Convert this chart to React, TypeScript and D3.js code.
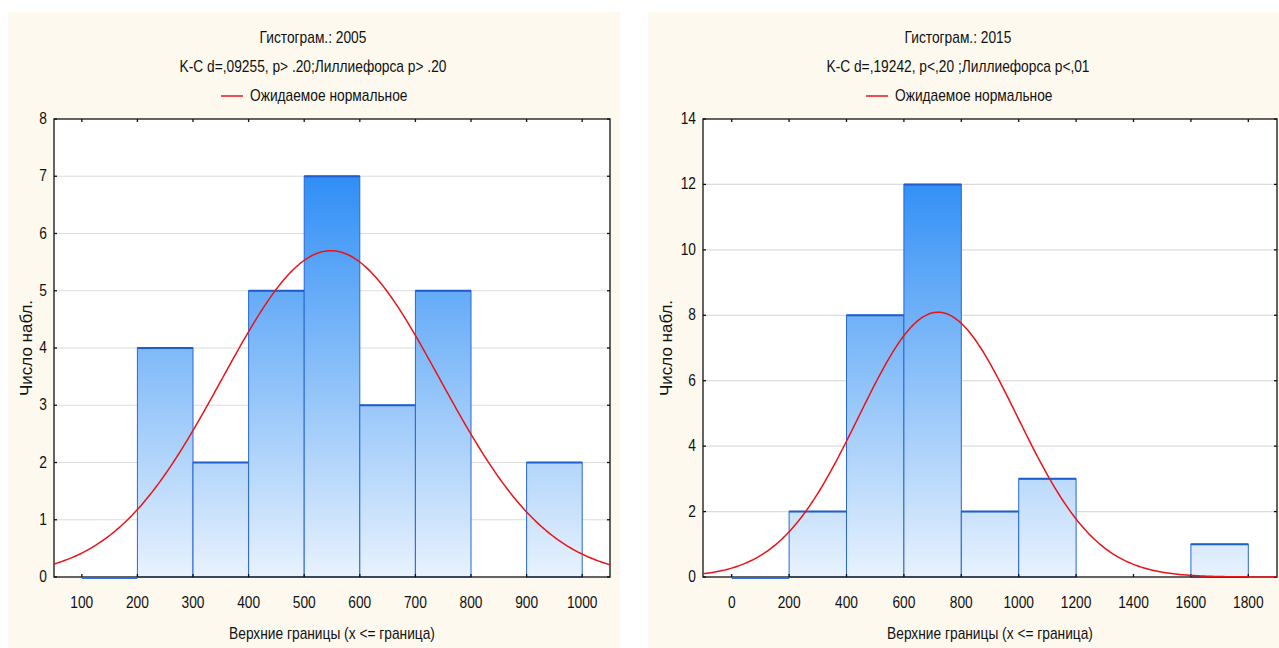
import React, { useRef, useEffect } from 'react';
import * as d3 from 'd3';

// Histogram 2005: upper bin bounds and counts
const upper2005 = [100, 200, 300, 400, 500, 600, 700, 800, 900, 1000];
const counts2005 = [0, 0, 4, 2, 5, 7, 3, 5, 0, 2];
const xTicks2005 = [100, 200, 300, 400, 500, 600, 700, 800, 900, 1000];
const yTicks2005 = [0, 1, 2, 3, 4, 5, 6, 7, 8];

// Histogram 2015
const upper2015 = [0, 200, 400, 600, 800, 1000, 1200, 1400, 1600, 1800];
const counts2015 = [0, 0, 2, 8, 12, 2, 3, 0, 0, 1];
const xTicks2015 = [0, 200, 400, 600, 800, 1000, 1200, 1400, 1600, 1800];
const yTicks2015 = [0, 2, 4, 6, 8, 10, 12, 14];

// Fitted normal parameters (expected normal)
const normal2005 = { n: 28, mean: 548, sd: 196 };
const normal2015 = { n: 28, mean: 719, sd: 276 };

const FONT = '"Liberation Sans", Arial, sans-serif';
const FS = 16;
const SX = 0.86; // horizontal squeeze to imitate a narrow face

interface PanelCfg {
  id: string;
  panel: [number, number];
  plot: { left: number; right: number; top: number; bottom: number };
  xDomain: [number, number];
  yMax: number;
  binWidth: number;
  upper: number[];
  counts: number[];
  xTicks: number[];
  yTicks: number[];
  normal: { n: number; mean: number; sd: number };
  title: string;
  subtitle: string;
  titleX: number;
  yLabelX: number;
}

const panels: PanelCfg[] = [
  {
    id: 'a',
    panel: [8, 620],
    plot: { left: 54, right: 610, top: 119, bottom: 577 },
    xDomain: [50, 1050],
    yMax: 8,
    binWidth: 100,
    upper: upper2005,
    counts: counts2005,
    xTicks: xTicks2005,
    yTicks: yTicks2005,
    normal: normal2005,
    title: 'Гистограм.: 2005',
    subtitle: 'K-C d=,09255, p> .20;Лиллиефорса p> .20',
    titleX: 313,
    yLabelX: 26,
  },
  {
    id: 'b',
    panel: [648, 1279],
    plot: { left: 703, right: 1277, top: 119, bottom: 577 },
    xDomain: [-100, 1900],
    yMax: 14,
    binWidth: 200,
    upper: upper2015,
    counts: counts2015,
    xTicks: xTicks2015,
    yTicks: yTicks2015,
    normal: normal2015,
    title: 'Гистограм.: 2015',
    subtitle: 'K-C d=,19242, p<,20 ;Лиллиефорса p<,01',
    titleX: 958,
    yLabelX: 666,
  },
];

type G = d3.Selection<SVGGElement, unknown, null, undefined>;

function addText(parent: G, x: number, y: number, str: string, anchor = 'middle') {
  return parent.append('text')
    .attr('transform', `translate(${x},${y}) scale(${SX},1)`)
    .attr('text-anchor', anchor)
    .text(str);
}

function drawPanel(svg: d3.Selection<SVGSVGElement, unknown, null, undefined>, cfg: PanelCfg) {
  const { plot } = cfg;
  const g = svg.append('g');

  // cream background
  g.append('rect')
    .attr('x', cfg.panel[0])
    .attr('y', 12)
    .attr('width', cfg.panel[1] - cfg.panel[0])
    .attr('height', 640)
    .attr('fill', '#fdf9ee');

  g.append('rect')
    .attr('x', plot.left)
    .attr('y', plot.top)
    .attr('width', plot.right - plot.left)
    .attr('height', plot.bottom - plot.top)
    .attr('fill', '#ffffff');

  const x = d3.scaleLinear().domain(cfg.xDomain).range([plot.left, plot.right]);
  const y = d3.scaleLinear().domain([0, cfg.yMax]).range([plot.bottom, plot.top]);

  // gradient for bars
  const defs = svg.select<SVGDefsElement>('defs');
  const gradId = `grad-${cfg.id}`;
  const grad = defs.append('linearGradient')
    .attr('id', gradId)
    .attr('gradientUnits', 'userSpaceOnUse')
    .attr('x1', 0).attr('x2', 0)
    .attr('y1', plot.top).attr('y2', plot.bottom);
  grad.append('stop').attr('offset', '0%').attr('stop-color', '#1580f4');
  grad.append('stop').attr('offset', '100%').attr('stop-color', '#e8f2fd');

  const clipId = `clip-${cfg.id}`;
  defs.append('clipPath').attr('id', clipId)
    .append('rect')
    .attr('x', plot.left).attr('y', plot.top)
    .attr('width', plot.right - plot.left).attr('height', plot.bottom - plot.top);

  // gridlines
  g.append('g').selectAll('line')
    .data(cfg.yTicks.filter((t) => t > 0 && t < cfg.yMax))
    .join('line')
    .attr('x1', plot.left).attr('x2', plot.right)
    .attr('y1', (d) => y(d)).attr('y2', (d) => y(d))
    .attr('stroke', '#dcdcdc')
    .attr('stroke-width', 1.2);

  // bars
  const bars = cfg.upper.map((u, i) => ({ x0: u - cfg.binWidth, x1: u, c: cfg.counts[i] }))
    .filter((b) => b.x0 >= cfg.xDomain[0]);
  const bg = g.append('g');
  bars.forEach((b) => {
    if (b.c > 0) {
      bg.append('rect')
        .attr('x', x(b.x0))
        .attr('y', y(b.c))
        .attr('width', x(b.x1) - x(b.x0))
        .attr('height', y(0) - y(b.c))
        .attr('fill', `url(#${gradId})`)
        .attr('stroke', '#2a66d6')
        .attr('stroke-width', 1);
      bg.append('line')
        .attr('x1', x(b.x0)).attr('x2', x(b.x1))
        .attr('y1', y(b.c)).attr('y2', y(b.c))
        .attr('stroke', '#1f5ccc')
        .attr('stroke-width', 2);
    }
  });

  // frame
  g.append('rect')
    .attr('x', plot.left).attr('y', plot.top)
    .attr('width', plot.right - plot.left).attr('height', plot.bottom - plot.top)
    .attr('fill', 'none')
    .attr('stroke', '#111')
    .attr('stroke-width', 1.3);

  // first (empty) bin drawn as a line just under the baseline
  bars.forEach((b) => {
    if (b.c === 0 && b.x1 <= cfg.upper[1]) {
      bg.append('line')
        .attr('x1', x(b.x0)).attr('x2', x(b.x1))
        .attr('y1', y(0) + 1.5).attr('y2', y(0) + 1.5)
        .attr('stroke', '#3a72d8')
        .attr('stroke-width', 1.2);
    }
  });

  // ticks (inward on all sides)
  const tk = 3;
  const tg = g.append('g').attr('stroke', '#111').attr('stroke-width', 1.3);
  cfg.xTicks.forEach((t) => {
    tg.append('line').attr('x1', x(t)).attr('x2', x(t)).attr('y1', plot.bottom).attr('y2', plot.bottom - tk);
    tg.append('line').attr('x1', x(t)).attr('x2', x(t)).attr('y1', plot.top).attr('y2', plot.top + tk);
  });
  cfg.yTicks.forEach((t) => {
    tg.append('line').attr('x1', plot.left).attr('x2', plot.left + tk).attr('y1', y(t)).attr('y2', y(t));
    tg.append('line').attr('x1', plot.right).attr('x2', plot.right - tk).attr('y1', y(t)).attr('y2', y(t));
  });

  // normal curve
  const { n, mean, sd } = cfg.normal;
  const pdf = (v: number) => (n * cfg.binWidth) / (sd * Math.sqrt(2 * Math.PI)) * Math.exp(-0.5 * ((v - mean) / sd) ** 2);
  const xs = d3.range(cfg.xDomain[0], cfg.xDomain[1] + 1, (cfg.xDomain[1] - cfg.xDomain[0]) / 300);
  const line = d3.line<number>().x((v) => x(v)).y((v) => y(pdf(v)));
  g.append('path')
    .attr('d', line(xs))
    .attr('fill', 'none')
    .attr('stroke', '#e8141a')
    .attr('stroke-width', 1.5)
    .attr('clip-path', `url(#${clipId})`);

  // tick labels
  const lg = g.append('g').attr('font-family', FONT).attr('font-size', FS).attr('fill', '#111');
  cfg.xTicks.forEach((t) => addText(lg, x(t), plot.bottom + 31, String(t)));
  cfg.yTicks.forEach((t) => addText(lg, plot.left - 7, y(t) + 5, String(t), 'end'));

  // axis titles
  const cx = (plot.left + plot.right) / 2;
  addText(lg, cx, 639, 'Верхние границы (x <= граница)');
  lg.append('text')
    .attr('transform', `translate(${cfg.yLabelX + 6},${(plot.top + plot.bottom) / 2}) rotate(-90)`)
    .attr('text-anchor', 'middle')
    .attr('font-size', 17)
    .text('Число набл.');

  // titles and legend
  addText(lg, cfg.titleX, 43, cfg.title);
  addText(lg, cfg.titleX, 72, cfg.subtitle);
  addText(lg, cfg.titleX - 63, 101, 'Ожидаемое нормальное', 'start');
  lg.append('line')
    .attr('x1', cfg.titleX - 92).attr('x2', cfg.titleX - 70)
    .attr('y1', 96).attr('y2', 96)
    .attr('stroke', '#e8141a').attr('stroke-width', 1.5);
}

export default function App(): React.ReactElement {
  const svgRef = useRef<SVGSVGElement>(null);

  useEffect(() => {
    if (!svgRef.current) return;
    const svg = d3.select(svgRef.current);
    svg.selectAll('*').remove();
    svg.append('defs');
    panels.forEach((p) => drawPanel(svg, p));
  }, []);

  return (
    <svg
      ref={svgRef}
      width={1279}
      height={648}
      style={{ position: 'absolute', left: 0, top: 0, background: '#ffffff' }}
    />
  );
}
